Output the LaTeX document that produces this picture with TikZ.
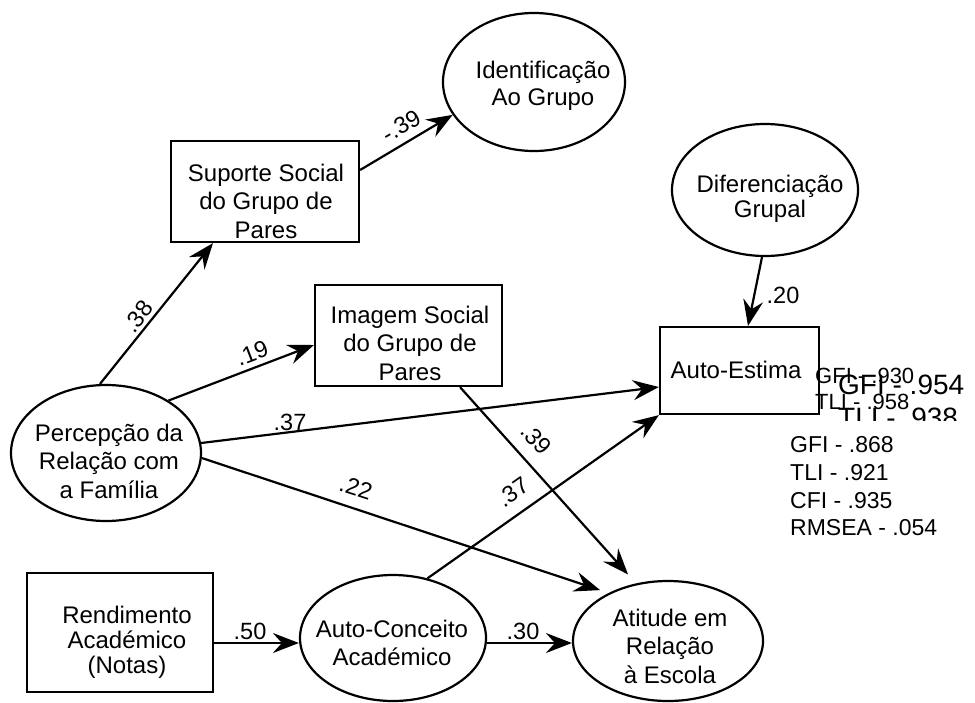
\documentclass[tikz,border=0pt]{standalone}
\usepackage{fontspec}
\setmainfont{Liberation Sans}
\usetikzlibrary{shapes.geometric,arrows.meta}
\begin{document}
\begin{tikzpicture}[x=1pt,y=-1pt,
  box/.style={draw,line width=2.2pt,rectangle,inner sep=0pt},
  ell/.style={draw,line width=2.2pt,ellipse,inner sep=0pt},
  txt/.style={align=center,inner sep=0pt,font=\fontsize{24}{28.5}\selectfont},
  txtb/.style={align=center,inner sep=0pt,font=\fontsize{24}{25}\selectfont},
  lbl/.style={inner sep=0pt,font=\fontsize{23.5}{26}\selectfont},
  fitx/.style={align=left,anchor=west,inner sep=0pt},
  arr/.style={line width=2.2pt,-{Stealth[length=26pt,width=20pt,inset=9pt]}}
]
\useasboundingbox (0,0) rectangle (975,702);

% shapes
\node[ell,minimum width=182pt,minimum height=138pt] (idf) at (534,82) {};
\node[txt,font=\fontsize{24}{27}\selectfont] (idft) at (543,86) {Identificação\\Ao Grupo};

\node[box,minimum width=188pt,minimum height=101pt] (sup) at (265,191.5) {};
\node[txt] (supt) at (266,201) {Suporte Social\\do Grupo de\\Pares};

\node[ell,minimum width=186pt,minimum height=132pt] (dif) at (765,190) {};
\node[txtb] (dift) at (770,199) {Diferenciação\\Grupal};

\node[box,minimum width=187pt,minimum height=101pt] (img) at (408.5,335.5) {};
\node[txt] (imgt) at (410,343) {Imagem Social\\do Grupo de\\Pares};

\node[box,minimum width=159pt,minimum height=87pt] (ae) at (739.5,370.5) {};
\node[txt] (aet) at (736,370) {Auto-Estima};

\node[ell,minimum width=190pt,minimum height=136pt] (pc) at (106,453) {};
\node[txt] (pct) at (109,461) {Percepção da\\Relação com\\a Família};

\node[box,minimum width=186pt,minimum height=119pt] (ren) at (120,632.5) {};
\node[txtb] (rent) at (127,642) {Rendimento\\Académico\\(Notas)};

\node[ell,minimum width=186pt,minimum height=126pt] (ac) at (393,638) {};
\node[txt] (act) at (392,643) {Auto-Conceito\\Académico};

\node[ell,minimum width=190pt,minimum height=120pt] (att) at (668,641) {};
\node[txt] (attt) at (670,646) {Atitude em\\Relação\\à Escola};

% connectors
\draw[arr] ([xshift=-6pt]pc.north) -- ([xshift=-52pt]sup.south);
\draw[arr] ([yshift=21.5pt]sup.east) -- (idf.202);
\draw[arr] (pc.40) -- ([yshift=-9.5pt]img.west);
\draw[arr] (pc.6) -- ([yshift=-16.5pt]ae.west);
\draw[arr,shorten >=9pt] (pc.357) -- (att.141);
\draw[arr,shorten >=12pt] ([xshift=51.5pt]img.south) -- (att.119);
\draw[arr] (ac.60) -- (ae.south west);
\draw[arr] ([xshift=-3pt]dif.south) -- ([xshift=8.5pt]ae.north);
\draw[arr] ([yshift=-10.5pt]ren.east) -- ([yshift=-5pt]ac.west);
\draw[arr] ([yshift=-5pt]ac.east) -- ([yshift=-2pt]att.west);

% coefficients
\node[lbl,rotate=52] (l1) at (138,316.5) {.38};
\node[lbl,rotate=30] (l2) at (401,126) {-.39};
\node[lbl,rotate=21] (l3) at (252,353) {.19};
\node[lbl] (l4) at (290,422) {.37};
\node[lbl,rotate=-18] (l5) at (356,488) {.22};
\node[lbl,rotate=-48] (l6) at (536,439) {.39};
\node[lbl,rotate=35] (l7) at (513,492) {.37};
\node[lbl] (l8) at (783,295) {.20};
\node[lbl] (l9) at (250,631) {.50};
\node[lbl] (l10) at (523,631) {.30};

% fit indices
\node[fitx,font=\fontsize{23}{27.7}\selectfont] (fit) at (790,486.5) {GFI - .868\\TLI - .921\\CFI - .935\\RMSEA - .054};

\begin{scope}
\clip (805,320) rectangle (975,420);
\node[fitx,font=\fontsize{22}{26}\selectfont] (fa) at (815,388.5) {GFI - .930\\TLI - .958};
\node[fitx,font=\fontsize{28}{33}\selectfont] (fb) at (838,401.5) {GFI - .954\\TLI - .938};
\end{scope}
\end{tikzpicture}
\end{document}
